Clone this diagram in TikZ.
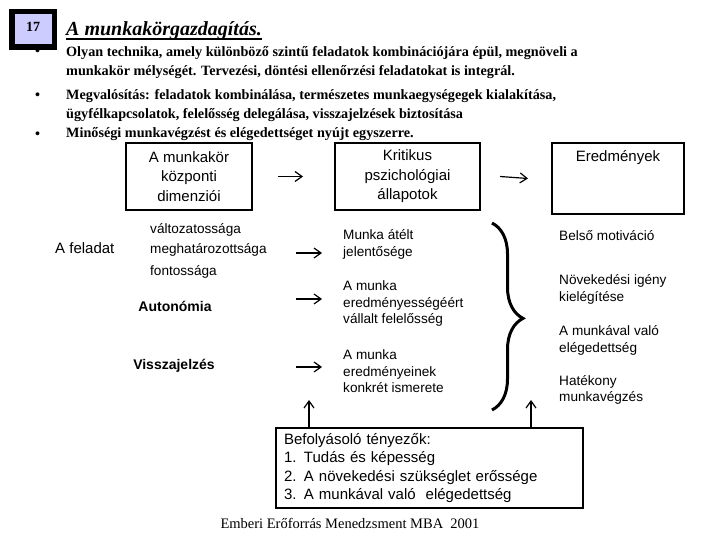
\documentclass[tikz,border=0pt]{standalone}
\usepackage{fontspec}
\setmainfont{Liberation Serif}
\setsansfont{Liberation Sans}
\usetikzlibrary{arrows.meta,decorations.pathreplacing}
\definecolor{lavender}{RGB}{204,204,255}

\begin{document}
\begin{tikzpicture}[x=1pt,y=-1pt,
	every node/.style={inner sep=0pt},
	box/.style={draw, line width=2pt, minimum height=67pt, align=center, font=\sffamily\fontsize{15}{19.5}\selectfont},
	txt/.style={anchor=west, align=left, font=\sffamily\fontsize{13.6}{16.5}\selectfont},
	bul/.style={anchor=base west, font=\rmfamily\bfseries\fontsize{14.2}{19}\selectfont},
	arr/.style={-{Straight Barb[length=7pt,width=10pt]}, line width=1.2pt}]
	\useasboundingbox (0,0) rectangle (720,540);
	% felsorolas
	\node[bul] (b1) at (35,56) {•};
	\node[bul] (b2) at (35,100) {•};
	\node[bul] (b3) at (35,139) {•};
	\node[bul] (l1) at (66,57) {Olyan technika, amely különböző szintű feladatok kombinációjára épül, megnöveli a};
	\node[bul] (l2) at (66,76) {munkakör mélységét. Tervezési, döntési ellenőrzési feladatokat is integrál.};
	\node[bul] (l3) at (66,100) {Megvalósítás: feladatok kombinálása, természetes munkaegységegek kialakítása,};
	\node[bul] (l4) at (66,119) {ügyfélkapcsolatok, felelősség delegálása, visszajelzések biztosítása};
	\node[bul] (l5) at (66,138) {Minőségi munkavégzést és elégedettséget nyújt egyszerre.};
	% cim
	\node[draw, line width=5.5pt, fill=lavender, minimum width=42.5pt, minimum height=35.5pt, font=\rmfamily\bfseries\fontsize{14}{16}\selectfont] (num) at (33,29.5) {\raisebox{6pt}{17}};
	\node[anchor=base west, font=\rmfamily\bfseries\itshape\fontsize{20}{24}\selectfont] (title) at (66,36) {A munkakörgazdagítás.};
	\draw[line width=1.8pt] ([yshift=-3pt]title.base west) -- ([yshift=-3pt]title.base east);
	% dobozok
	\node[box, minimum width=126pt] (dim) at (189,176.5) {A munkakör\\központi\\dimenziói};
	\node[box, minimum width=145pt] (psy) at (407.5,176.5) {Kritikus\\pszichológiai\\állapotok};
	\node[box, minimum width=132pt, minimum height=71pt] (out) at (618,178.5) {};
	\node[anchor=north, font=\sffamily\fontsize{15}{19.5}\selectfont] (outt) at ([yshift=-8pt]out.north) {Eredmények};
	\draw[arr] ([xshift=25pt]dim.east) -- ([xshift=-31pt]psy.west);
	\draw[arr] ([xshift=19pt]psy.east) -- ([xshift=-23pt]out.west);
	% dimenziok
	\node[txt, font=\sffamily\fontsize{15}{18}\selectfont] (task) at (55,248) {A feladat};
	\node[txt] (var) at (150,230) {változatossága};
	\node[txt] (ide) at (150,250) {meghatározottsága};
	\node[txt] (sig) at (150,272) {fontossága};
	\node[font=\sffamily\bfseries\fontsize{14}{16}\selectfont] (aut) at (175,306) {Autonómia};
	\node[font=\sffamily\bfseries\fontsize{14}{16}\selectfont] (fb) at (174,366) {Visszajelzés};
	\foreach \y [count=\i] in {253,299,367} {
		\coordinate (s\i) at (296,\y);
		\coordinate (e\i) at (322,\y);
		\draw[arr] (s\i) -- (e\i);
	}
	% allapotok
	\node[txt] (mea) at (343,244.5) {Munka átélt\\jelentősége};
	\node[txt] (res) at (343,303.5) {A munka\\eredményességéért\\vállalt felelősség};
	\node[txt] (kno) at (343,371.5) {A munka\\eredményeinek\\konkrét ismerete};
	\draw[line width=3pt, decorate, decoration={brace, amplitude=31pt, aspect=0.51}] (492,223) -- (492,410);
	% eredmenyek
	\node[txt] (mot) at (559,236) {Belső motiváció};
	\node[txt] (gro) at (559,289.5) {Növekedési igény\\kielégítése};
	\node[txt] (sat) at (559,340.5) {A munkával való\\elégedettség};
	\node[txt] (eff) at (559,390) {Hatékony\\munkavégzés};
	% befolyasolo tenyezok
	\node[draw, line width=2pt, anchor=north west, minimum width=307pt, minimum height=80pt, text width=291pt, align=left, font=\sffamily\fontsize{15}{18.5}\selectfont] (fac) at (275,427)
		{Befolyásoló tényezők:\\\makebox[20pt][l]{1.}Tudás és képesség\\\makebox[20pt][l]{2.}A növekedési szükséglet erőssége\\\makebox[20pt][l]{3.}A munkával való\ \ elégedettség};
	\coordinate (u1) at (309,400);
	\coordinate (u2) at (531,400);
	\draw[arr] (fac.north -| u1) -- (u1);
	\draw[arr] (fac.north -| u2) -- (u2);
	\node[anchor=base, font=\rmfamily\fontsize{14.5}{17}\selectfont] (foot) at (350,528) {Emberi Erőforrás Menedzsment MBA\ \ 2001};
\end{tikzpicture}
\end{document}
